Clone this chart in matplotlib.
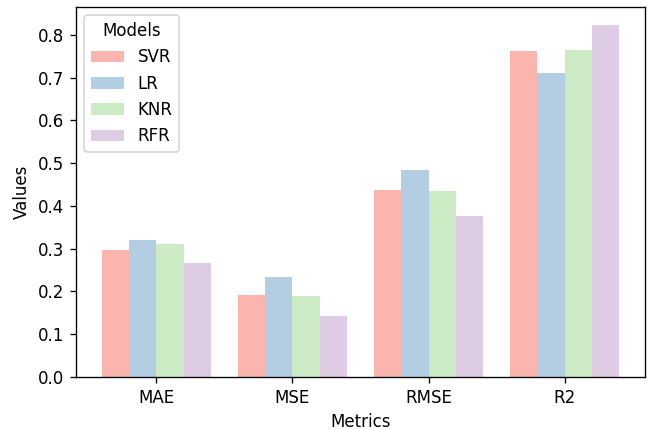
import matplotlib
matplotlib.use('Agg')
import matplotlib.pyplot as plt
import numpy as np

metrics = ['MAE', 'MSE', 'RMSE', 'R2']
models = ['SVR', 'LR', 'KNR', 'RFR']
svr = [0.297, 0.192, 0.437, 0.763]
lr = [0.320, 0.234, 0.483, 0.710]
knr = [0.310, 0.189, 0.435, 0.765]
rfr = [0.267, 0.143, 0.377, 0.824]
colors = ['#fbb4ae', '#b3cde3', '#ccebc5', '#decbe4']

fig = plt.figure(figsize=(649/120, 430/120), dpi=120)
ax = fig.add_axes([76/649, 1-377/430, (645-76)/649, (377-7)/430])

x = np.arange(len(metrics))
w = 0.2
for i, (vals, name) in enumerate(zip([svr, lr, knr, rfr], models)):
    ax.bar(x + (i - 1.5)*w, vals, w, color=colors[i], label=name)

ax.set_xticks(x)
ax.set_xticklabels(metrics)
ax.set_xlabel('Metrics')
ax.set_ylabel('Values')
ax.legend(title='Models', loc='upper left')

fig.savefig('out.png', dpi=120)
